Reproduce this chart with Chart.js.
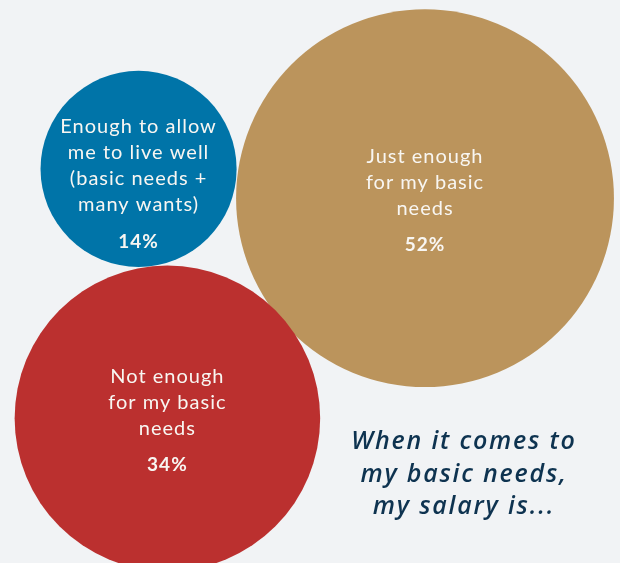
<!DOCTYPE html>
<html>
<head>
<meta charset="utf-8">
<style>
  html, body { margin: 0; padding: 0; background: #f1f3f5; }
  #wrap { width: 620px; height: 563px; position: relative; }
</style>
<script src="https://cdn.jsdelivr.net/npm/chart.js@4/dist/chart.umd.min.js"></script>
</head>
<body>
<div id="wrap"><canvas id="c" width="620" height="563"></canvas></div>
<script>
// Survey answers and their shares (%)
const categories = [
  ['Enough to allow', 'me to live well', '(basic needs +', 'many wants)'],
  ['Just enough', 'for my basic', 'needs'],
  ['Not enough', 'for my basic', 'needs']
];
const shares = [14, 52, 34];

// Where each bubble sits on the 0–100 layout grid
const bubbleX = [22.35, 68.55, 27.0];
const bubbleY = [70.0, 64.8, 25.7];

const colors = ['#0074a8', '#bb945c', '#bb302f'];
const caption = ['When it comes to', 'my basic needs,', 'my salary is...'];

// Bubble area is proportional to the share
const RADIUS_K = 26.2;

const bubbleLabels = {
  id: 'bubbleLabels',
  afterDatasetsDraw(chart) {
    const ctx = chart.ctx;
    const meta = chart.getDatasetMeta(0);
    ctx.save();
    ctx.textAlign = 'center';
    ctx.textBaseline = 'middle';
    ctx.fillStyle = '#f8f6f2';
    meta.data.forEach((el, i) => {
      const lines = categories[i];
      let y = el.y - 42;
      ctx.letterSpacing = '1px';
      ctx.font = '400 20px Lato';
      lines.forEach(line => {
        ctx.fillText(line, el.x, y);
        y += 26;
      });
      ctx.letterSpacing = '1px';
      ctx.font = 'bold 19px Lato';
      ctx.fillText(shares[i] + '%', el.x, y + 11);
    });

    // caption block, lower right
    ctx.fillStyle = '#0e3350';
    ctx.letterSpacing = '1.8px';
    ctx.font = 'italic 600 25px "Open Sans"';
    caption.forEach((line, j) => {
      ctx.fillText(line, 464, 442 + j * 32.5);
    });
    ctx.restore();
  }
};

new Chart(document.getElementById('c'), {
  type: 'bubble',
  data: {
    datasets: [{
      data: shares.map((v, i) => ({ x: bubbleX[i], y: bubbleY[i], v })),
      backgroundColor: colors,
      hoverBackgroundColor: colors,
      borderWidth: 0,
      hoverBorderWidth: 0,
      radius: ctx => RADIUS_K * Math.sqrt(shares[ctx.dataIndex]),
      clip: false
    }]
  },
  options: {
    responsive: false,
    animation: false,
    events: [],
    layout: { padding: 0, autoPadding: false },
    scales: {
      x: { display: false, min: 0, max: 100 },
      y: { display: false, min: 0, max: 100 }
    },
    plugins: {
      legend: { display: false },
      tooltip: { enabled: false }
    }
  },
  plugins: [bubbleLabels]
});
</script>
</body>
</html>
